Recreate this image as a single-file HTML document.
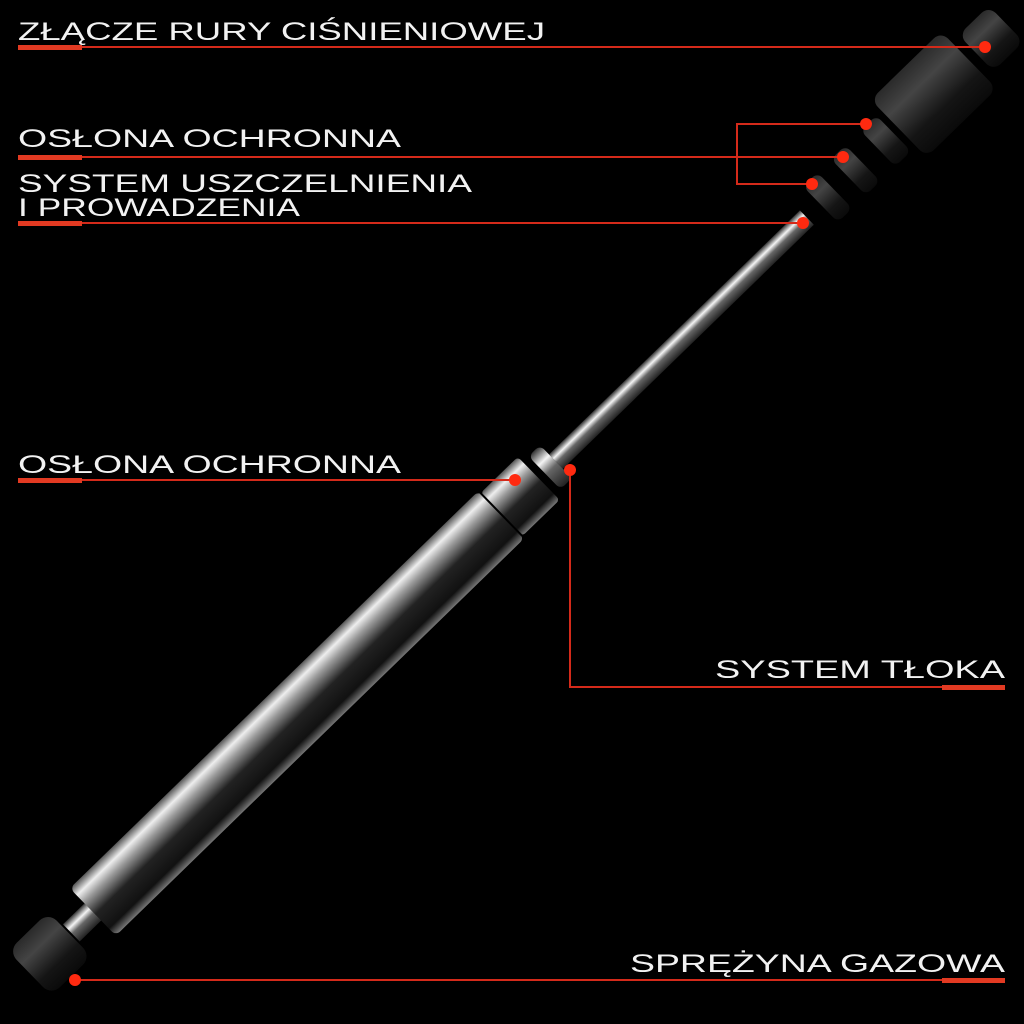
<!DOCTYPE html>
<html><head><meta charset="utf-8"><style>
html,body{margin:0;padding:0;background:#000;}
svg{display:block}
text{font-family:"Liberation Sans",sans-serif;fill:#f2f2f2;font-size:25px;}
</style></head><body>
<svg width="1024" height="1024" viewBox="0 0 1024 1024" xmlns="http://www.w3.org/2000/svg">
<defs>
<linearGradient id="chrome" x1="0" y1="0" x2="0" y2="1">
<stop offset="0" stop-color="#555"/><stop offset="0.15" stop-color="#eee"/><stop offset="0.3" stop-color="#999"/><stop offset="0.55" stop-color="#222"/><stop offset="0.85" stop-color="#111"/><stop offset="1" stop-color="#777"/>
</linearGradient>
<linearGradient id="rod" x1="0" y1="0" x2="0" y2="1">
<stop offset="0" stop-color="#333"/><stop offset="0.3" stop-color="#f4f4f4"/><stop offset="0.55" stop-color="#666"/><stop offset="1" stop-color="#222"/>
</linearGradient>
<linearGradient id="dark" x1="0" y1="0" x2="0" y2="1">
<stop offset="0" stop-color="#2a2a2a"/><stop offset="0.3" stop-color="#444"/><stop offset="0.7" stop-color="#151515"/><stop offset="1" stop-color="#0a0a0a"/>
</linearGradient>
</defs>
<rect width="1024" height="1024" fill="#000"/>

<g transform="translate(100,905) rotate(-44.2)">
  <rect x="-98" y="-31" width="56" height="62" rx="12" fill="url(#dark)"/>
  <rect x="-40" y="-12" width="32" height="24" fill="url(#rod)"/>
  <rect x="-10" y="-33" width="570" height="66" rx="6" fill="url(#chrome)"/>
  <rect x="560" y="-30" width="52" height="60" rx="4" fill="url(#chrome)"/>
  <line x1="560" y1="-30" x2="560" y2="30" stroke="#000" stroke-width="2"/>
  <rect x="620" y="-23" width="16" height="46" rx="6" fill="url(#rod)"/>
  <rect x="636" y="-10" width="350" height="20" fill="url(#rod)"/>
  <rect x="1005" y="-25" width="20" height="50" rx="7" fill="url(#dark)"/>
  <rect x="1044" y="-25" width="20" height="50" rx="7" fill="url(#dark)"/>
  <rect x="1085" y="-25" width="22" height="50" rx="7" fill="url(#dark)"/>
  <rect x="1114" y="-40" width="98" height="80" rx="10" fill="url(#dark)"/>
  <rect x="1222" y="-25" width="42" height="50" rx="10" fill="url(#dark)"/>
</g>

<g stroke="#d42a1a" stroke-width="2" fill="none">
  <line x1="18" y1="47" x2="985" y2="47"/>
  <line x1="18" y1="157" x2="843" y2="157"/>
  <polyline points="866,124 737,124 737,184 812,184"/>
  <line x1="18" y1="223" x2="803" y2="223"/>
  <line x1="18" y1="480" x2="515" y2="480"/>
  <polyline points="570,470 570,687 1005,687"/>
  <line x1="75" y1="980" x2="1005" y2="980"/>
</g>
<g fill="#e23a22">
  <rect x="18" y="45" width="64" height="5"/>
  <rect x="18" y="155" width="64" height="5"/>
  <rect x="18" y="221" width="64" height="5"/>
  <rect x="18" y="478" width="64" height="5"/>
  <rect x="942" y="685" width="63" height="5"/>
  <rect x="942" y="978" width="63" height="5"/>
</g>
<g fill="#ff2a10">
  <circle cx="985" cy="47" r="6"/>
  <circle cx="866" cy="124" r="6"/>
  <circle cx="843" cy="157" r="6"/>
  <circle cx="812" cy="184" r="6"/>
  <circle cx="803" cy="223" r="6"/>
  <circle cx="515" cy="480" r="6"/>
  <circle cx="570" cy="470" r="6"/>
  <circle cx="75" cy="980" r="6"/>
</g>

<text x="18" y="40" textLength="527" lengthAdjust="spacingAndGlyphs">ZŁĄCZE RURY CIŚNIENIOWEJ</text>
<text x="18" y="147" textLength="383" lengthAdjust="spacingAndGlyphs">OSŁONA OCHRONNA</text>
<text x="18" y="192" textLength="454" lengthAdjust="spacingAndGlyphs">SYSTEM USZCZELNIENIA</text>
<text x="18" y="216" textLength="282" lengthAdjust="spacingAndGlyphs">I PROWADZENIA</text>
<text x="18" y="473" textLength="383" lengthAdjust="spacingAndGlyphs">OSŁONA OCHRONNA</text>
<text x="715" y="678" textLength="290" lengthAdjust="spacingAndGlyphs">SYSTEM TŁOKA</text>
<text x="630" y="972" textLength="375" lengthAdjust="spacingAndGlyphs">SPRĘŻYNA GAZOWA</text>
</svg>
</body></html>
